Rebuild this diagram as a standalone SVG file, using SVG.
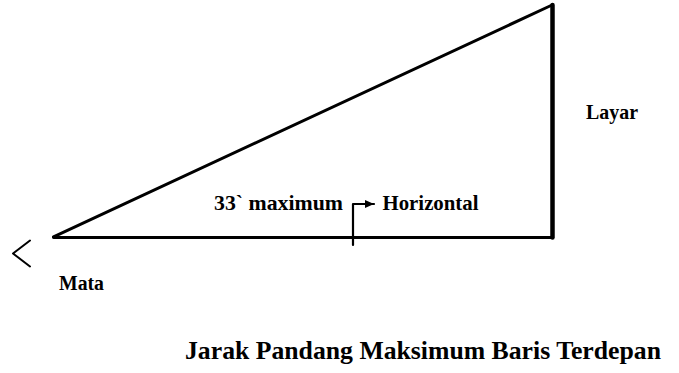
<svg xmlns="http://www.w3.org/2000/svg" width="679" height="373" viewBox="0 0 679 373">
  <style>
    .lbl { font-family: "Liberation Serif", "Times New Roman", serif; font-weight: bold; fill: #000; }
    .ln { fill: none; stroke: #000; stroke-linecap: round; stroke-linejoin: round; }
  </style>
  <defs>
    <marker id="ah" viewBox="0 0 9 8" refX="9" refY="4" markerWidth="9" markerHeight="8" markerUnits="userSpaceOnUse" orient="auto">
      <path d="M0,0 L9,4 L0,8 Z" fill="#000"/>
    </marker>
  </defs>
  <rect width="679" height="373" fill="#fff"/>
  <g id="triangle">
    <line class="ln" x1="53.5" y1="236.8" x2="551" y2="5.5" stroke-width="3"/>
    <line class="ln" x1="53.5" y1="237.5" x2="552.5" y2="237.5" stroke-width="2.8"/>
    <line class="ln" x1="552.5" y1="5" x2="552.5" y2="237.5" stroke-width="4.5"/>
  </g>
  <g id="eye">
    <polyline class="ln" points="30,240.5 13,253.5 30,266.5" stroke-width="2"/>
  </g>
  <g id="connectors">
    <polyline class="ln" points="353,245 353,204 374,204" stroke-width="2.2" stroke-linecap="butt" marker-end="url(#ah)"/>
  </g>
  <g id="label-angle">
    <text class="lbl" x="214" y="210" font-size="21" textLength="129" lengthAdjust="spacingAndGlyphs">33` maximum</text>
  </g>
  <g id="label-horizontal">
    <text class="lbl" x="382.5" y="210" font-size="21" textLength="96" lengthAdjust="spacingAndGlyphs">Horizontal</text>
  </g>
  <g id="label-layar">
    <text class="lbl" x="586" y="119" font-size="21" textLength="52" lengthAdjust="spacingAndGlyphs">Layar</text>
  </g>
  <g id="label-mata">
    <text class="lbl" x="59" y="290" font-size="20" textLength="45" lengthAdjust="spacingAndGlyphs">Mata</text>
  </g>
  <g id="title">
    <text class="lbl" x="185" y="358.5" font-size="25" textLength="476" lengthAdjust="spacingAndGlyphs">Jarak Pandang Maksimum Baris Terdepan</text>
  </g>
</svg>
